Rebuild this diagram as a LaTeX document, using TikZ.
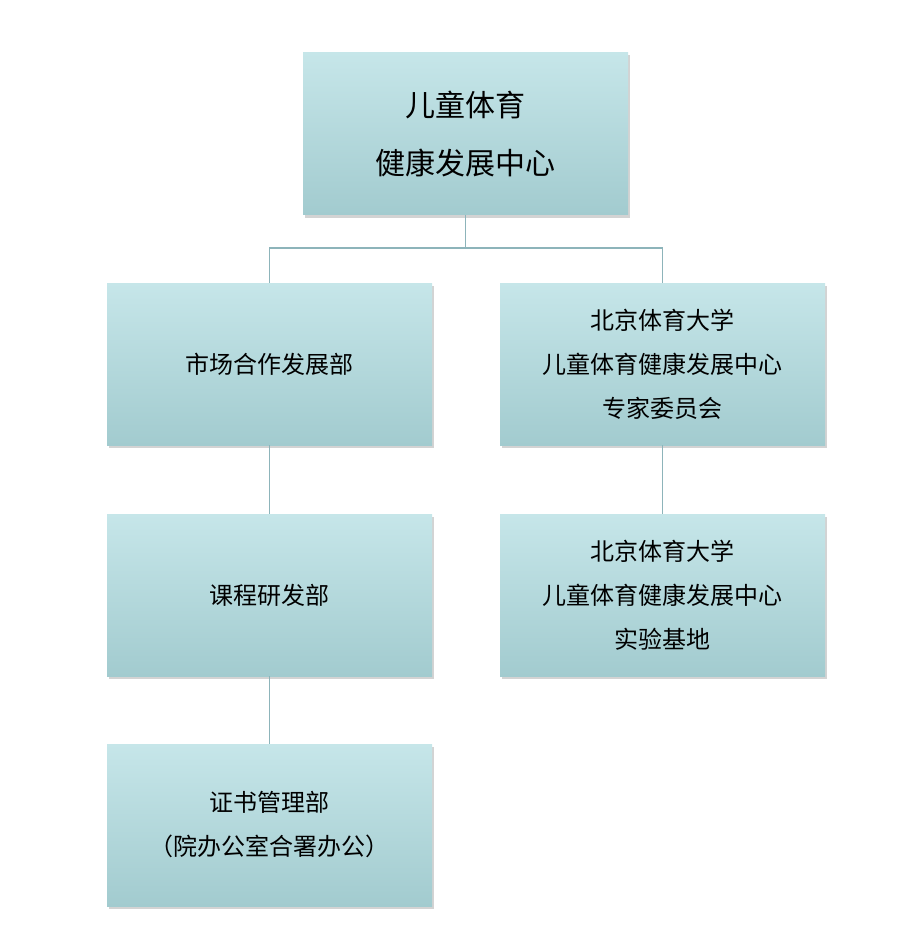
\documentclass[tikz,border=0pt]{standalone}
\usepackage{fontspec}
\newfontfamily\cjk{Noto Sans CJK SC}
\usetikzlibrary{shadows}
\definecolor{boxtop}{HTML}{C6E6E9}
\definecolor{boxbot}{HTML}{A2CBCF}
\definecolor{linec}{HTML}{8DB4BA}
\tikzset{
  unit/.style={minimum width=325pt,minimum height=162pt,inner sep=0pt,
    top color=boxtop,bottom color=boxbot,draw=none,align=center,
    font=\cjk\fontsize{24}{44}\selectfont,
    drop shadow={shadow xshift=2pt,shadow yshift=-3pt,opacity=0.35}},
  link/.style={draw=linec,line width=1.2pt}
}
\begin{document}
\begin{tikzpicture}[x=1pt,y=-1pt]
\useasboundingbox (0,0) rectangle (920,950);

\node[unit,font=\cjk\fontsize{30}{58}\selectfont] (center) at (465.5,133.5) {儿童体育\\健康发展中心};

\node[unit] (market) at (269.5,364) {市场合作发展部};
\node[unit] (course) at (269.5,595) {课程研发部};
\node[unit] (cert) at (269.5,825) {证书管理部\\（院办公室合署办公）};

\node[unit] (expert) at (662.5,364) {北京体育大学\\儿童体育健康发展中心\\专家委员会};
\node[unit] (base) at (662.5,595) {北京体育大学\\儿童体育健康发展中心\\实验基地};

\coordinate (fork) at (465.5,248);
\draw[link] (center.south) -- (fork);
\draw[link] (fork) -| (market.north);
\draw[link] (fork) -| (expert.north);
\draw[link] (market) -- (course);
\draw[link] (course) -- (cert);
\draw[link] (expert) -- (base);

\end{tikzpicture}
\end{document}
